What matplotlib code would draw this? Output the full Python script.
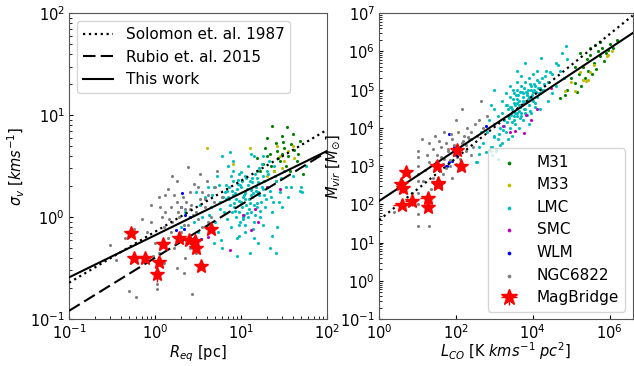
import numpy as np
import matplotlib.pyplot as plt
from matplotlib.ticker import LogLocator

plt.rcParams['font.size'] = 11
plt.rcParams['axes.labelsize'] = 10.5
plt.rcParams['xtick.labelsize'] = 10.5
plt.rcParams['ytick.labelsize'] = 10.5
plt.rcParams['xtick.direction'] = 'in'
plt.rcParams['ytick.direction'] = 'in'
plt.rcParams['xtick.major.size'] = 3
plt.rcParams['ytick.major.size'] = 3
plt.rcParams['xtick.minor.size'] = 2
plt.rcParams['ytick.minor.size'] = 2
plt.rcParams['xtick.major.pad'] = 3
plt.rcParams['ytick.major.pad'] = 3
plt.rcParams['axes.edgecolor'] = '#555555'

# ---- left panel data: log10 R_eq [pc], log10 sigma_v [km/s] ----
m31_logR = [1.36, 1.40, 1.49, 1.72, 1.30, 1.35, 1.42, 1.45, 1.50, 1.55, 1.58, 1.62, 1.65, 1.48, 1.38,
            1.25, 1.28, 1.52, 1.60, 1.68, 1.43, 1.33, 1.57, 1.47, 1.18, 1.22, 1.40, 1.53, 1.30, 1.66]
m31_logS = [0.89, 0.73, 0.74, 0.42, 0.60, 0.50, 0.65, 0.55, 0.68, 0.60, 0.72, 0.66, 0.55, 0.80, 0.45,
            0.52, 0.68, 0.50, 0.82, 0.75, 0.58, 0.62, 0.45, 0.62, 0.58, 0.45, 0.35, 0.88, 0.78, 0.62]
m33_logR = [0.60, 1.10, 0.91, 1.45, 1.55, 1.50, 1.38, 1.30, 1.60, 1.48, 1.42, 1.62]
m33_logS = [0.68, 0.68, 0.52, 0.60, 0.65, 0.55, 0.45, 0.40, 0.70, 0.48, 0.70, 0.58]
lmc_logR = [0.85, 0.92, 1.00, 1.05, 1.10, 1.12, 0.95, 1.20, 1.25, 0.80, 0.75, 0.70, 0.88, 1.02, 1.15,
            1.30, 1.35, 1.18, 1.08, 0.98, 0.90, 0.82, 0.65, 0.60, 0.55, 0.50, 0.45, 0.40, 0.68, 0.78,
            0.95, 1.05, 1.15, 1.22, 1.28, 1.40, 1.45, 1.50, 1.38, 1.32, 1.25, 1.60, 1.70, 1.75, 0.72,
            0.62, 0.58, 0.85, 0.78, 1.12, 1.00, 1.03, 0.97, 1.07, 1.13, 0.93, 0.87, 1.17, 1.23, 1.09,
            0.99, 0.83, 0.76, 1.27, 1.19, 1.04, 0.91, 1.14, 1.26, 1.36, 0.73, 0.66, 0.52, 0.48, 0.35,
            0.30, 1.42, 1.48, 1.55, 1.33, 1.20, 1.10, 0.95, 1.40, 1.01, 1.06, 0.94, 1.16, 0.89, 1.21,
            0.87, 1.15, 1.69, 1.71, 1.11, 0.96, 1.29, 0.81, 1.37, 1.02,
            0.90, 0.98, 1.04, 1.08, 1.14, 1.18, 1.24, 0.86, 0.93, 1.01, 1.06, 1.12, 1.20, 1.27, 0.84,
            0.96, 1.03, 1.10, 1.16, 1.22, 0.79, 0.88, 0.97, 1.05, 1.13, 1.31, 1.34, 0.74, 1.44, 1.52,
            0.94, 1.00, 1.07, 1.11, 1.19, 1.25, 0.89, 0.99, 1.09, 1.17, 0.82, 1.39, 1.46, 0.69, 0.63,
            1.05, 1.13, 0.92, 1.21, 1.02, 0.86, 1.30, 1.36, 0.77, 1.58, 1.08, 0.98, 1.15, 1.24, 0.91]
lmc_logS = [0.20, 0.10, 0.30, 0.18, 0.35, 0.05, 0.28, 0.25, 0.40, 0.05, 0.15, -0.05, -0.10, -0.02, 0.12,
            0.30, 0.20, 0.45, 0.50, 0.42, 0.35, 0.32, 0.10, -0.10, 0.00, -0.15, -0.05, -0.20, -0.25, -0.30,
            -0.20, -0.15, -0.05, 0.00, 0.10, 0.35, 0.25, 0.45, 0.50, 0.55, 0.60, 0.40, 0.30, 0.50, 0.40,
            0.30, 0.20, 0.50, 0.60, 0.62, 0.15, 0.22, 0.05, 0.28, 0.20, 0.24, 0.12, 0.30, 0.15, 0.08,
            -0.05, -0.02, 0.08, 0.35, 0.38, 0.40, 0.45, -0.12, -0.08, 0.05, -0.15, 0.22, 0.12, 0.25, 0.05,
            -0.10, -0.10, 0.10, 0.20, -0.30, -0.25, -0.35, -0.38, -0.35, 0.35, 0.12, 0.18, 0.42, 0.26, 0.22,
            0.64, 0.60, 0.26, 0.25, 0.27, 0.33, 0.18, 0.25, 0.15, 0.00,
            0.22, 0.16, 0.26, 0.32, 0.24, 0.14, 0.30, 0.18, 0.06, 0.10, 0.38, 0.28, 0.34, 0.22, 0.26,
            0.36, 0.02, 0.14, 0.02, 0.06, 0.20, 0.40, -0.08, 0.24, 0.34, 0.42, 0.26, 0.32, 0.15, 0.30,
            0.00, 0.44, 0.04, 0.22, 0.10, 0.28, 0.05, 0.32, 0.18, 0.26, 0.18, 0.40, 0.38, 0.30, 0.02,
            -0.08, 0.38, 0.14, 0.48, 0.20, 0.30, 0.45, -0.18, -0.22, 0.30, 0.00, -0.18, -0.20, 0.52, 0.55]
smc_logR = [1.45, 1.02, 1.16, 1.12, 0.87, 0.62, 1.30, 1.20]
smc_logS = [0.28, 0.02, 0.08, -0.13, -0.32, -0.19, 0.30, -0.05]
wlm_logR = [0.31, 0.35, 0.33, 0.44, 0.24, 0.53, 0.30, 0.40]
wlm_logS = [0.24, 0.02, -0.12, -0.26, -0.13, -0.21, 0.10, 0.00]
ngc_logR = [-0.52, -0.30, -0.22, 0.02, 0.02, 0.02, 0.43, -0.45, -0.10, -0.05, 0.00, 0.05, 0.10, 0.12, 0.15,
            0.18, 0.20, 0.22, 0.25, 0.28, 0.30, 0.32, 0.35, 0.38, 0.40, 0.42, 0.45, 0.48, 0.50, 0.52,
            0.55, 0.58, 0.60, 0.62, 0.65, 0.68, 0.72, 0.38, 0.52, 0.25, 0.15, 0.05, -0.05, -0.15, -0.25,
            -0.35, 0.10, 0.25, 0.35, 0.20, 0.45, 0.30, 0.18, 0.08, 0.40, 0.55, 0.62, 0.70, 0.78, 0.12,
            -0.02, 0.33, 0.48, 0.27, 0.36, 0.44, 0.16, 0.58, 0.22, 0.50, 0.06, 0.34, 0.41]
ngc_logS = [-0.27, -0.72, -0.78, -0.66, -0.60, -0.70, -0.75, -0.42, -0.15, -0.05, -0.25, -0.35, -0.10, 0.05, -0.20,
            0.10, -0.05, -0.30, 0.15, 0.00, -0.15, 0.20, 0.08, -0.08, 0.25, 0.12, -0.20, 0.05, 0.30, 0.18,
            -0.10, 0.10, 0.35, 0.22, 0.00, 0.15, 0.45, 0.49, 0.42, 0.35, 0.28, 0.20, 0.12, -0.02, -0.12,
            -0.20, -0.45, -0.50, -0.40, 0.40, 0.33, 0.10, -0.15, 0.00, -0.30, 0.25, -0.05, 0.30, 0.20, 0.22,
            -0.38, -0.55, -0.35, 0.05, 0.15, 0.02, -0.02, 0.18, 0.22, -0.02, 0.10, -0.08, 0.08]
mb_R = [0.53, 0.57, 0.76, 1.23, 1.11, 1.06, 1.91, 2.48, 2.92, 3.00, 3.37, 4.52]
mb_sig = [0.70, 0.40, 0.40, 0.54, 0.36, 0.28, 0.62, 0.60, 0.59, 0.50, 0.33, 0.77]
mb_R_err = [0.04, 0.05, 0.06, 0.08, 0.07, 0.06, 0.12, 0.15, 0.18, 0.15, 0.20, 0.25]
mb_sig_err = [0.04, 0.03, 0.03, 0.04, 0.03, 0.05, 0.04, 0.04, 0.04, 0.04, 0.03, 0.05]

# ---- right panel data: log10 L_CO, log10 M_vir ----
m31_logL = [5.61, 5.22, 4.70, 5.09, 5.74, 5.30, 5.40, 5.50, 5.60, 5.70, 5.80, 5.90, 6.00, 5.45, 5.35,
            5.55, 5.65, 5.20, 5.10, 5.00, 5.85, 6.10, 5.25, 4.90, 5.75, 5.95, 5.15, 4.85, 5.50, 6.20]
m31_logM = [6.17, 5.95, 4.78, 5.17, 5.87, 5.60, 5.80, 5.90, 5.70, 6.00, 6.10, 5.95, 6.20, 5.50, 5.30,
            5.40, 5.55, 5.40, 5.60, 5.30, 5.75, 6.10, 5.10, 5.00, 6.25, 6.05, 4.95, 4.85, 6.10, 6.30]
m33_logL = [5.95, 5.43, 5.09, 4.83, 5.22, 5.39, 5.32, 5.92, 5.60, 5.00, 5.50, 6.05]
m33_logM = [5.91, 5.26, 4.96, 4.96, 5.47, 5.22, 5.26, 5.87, 5.65, 5.20, 5.45, 6.00]
lmc_logL = [2.51, 2.60, 2.55, 2.77, 4.87, 4.22, 4.61, 2.70, 2.80, 2.90, 3.00, 3.00, 3.10, 3.10, 3.15,
            3.20, 3.20, 3.25, 3.30, 3.30, 3.35, 3.40, 3.40, 3.45, 3.50, 3.50, 3.55, 3.60, 3.60, 3.65,
            3.70, 3.70, 3.75, 3.80, 3.80, 3.85, 3.90, 3.90, 3.95, 4.00, 4.00, 4.05, 4.10, 4.10, 4.15,
            4.20, 4.25, 4.30, 4.35, 4.40, 4.50, 4.60, 4.70, 4.80, 3.55, 3.65, 3.75, 3.45, 3.35, 3.85,
            3.95, 4.05, 3.20, 3.40, 3.60, 3.80, 3.00, 2.85, 2.95, 3.05, 2.65, 3.50, 3.58, 3.68, 3.72,
            3.62, 3.52, 3.42, 3.32, 3.78, 3.88, 3.98, 4.08, 4.18, 4.28, 3.48, 3.58, 3.30, 4.40, 4.50,
            3.10, 2.40, 2.60, 3.90, 4.20, 3.00, 2.90, 4.90, 4.75, 3.70, 4.65, 2.95, 3.15, 3.05,
            3.44, 3.54, 3.64, 3.74, 3.84, 3.94, 4.04, 4.14, 3.38, 3.48, 3.66, 3.76, 3.86, 3.96, 4.12,
            3.26, 3.36, 3.56, 3.70, 3.82, 3.92, 4.02, 4.24, 3.46, 3.60, 3.78, 3.90, 4.06, 3.22, 3.34,
            3.52, 3.64, 3.74, 3.88, 4.00, 4.16, 4.32, 3.40, 3.58, 3.68, 3.80, 3.94, 3.12, 2.98, 4.44]
lmc_logM = [3.10, 3.31, 3.10, 3.36, 6.15, 5.82, 5.69, 3.60, 3.90, 3.50, 3.80, 4.10, 3.70, 4.30, 4.00,
            3.60, 4.40, 4.20, 3.90, 4.60, 4.30, 4.00, 4.80, 4.50, 4.20, 4.90, 4.60, 4.30, 5.00, 4.70,
            4.40, 5.10, 4.80, 4.50, 5.20, 4.90, 4.60, 5.30, 5.00, 4.70, 5.40, 5.10, 4.80, 5.50, 5.20,
            4.90, 5.30, 5.00, 5.50, 5.20, 5.40, 5.10, 5.50, 5.30, 4.10, 4.00, 4.20, 3.80, 3.70, 4.35,
            4.40, 4.55, 4.70, 5.10, 5.50, 5.70, 4.50, 4.20, 3.30, 3.40, 3.90, 4.45, 4.75, 4.55, 4.95,
            4.85, 4.65, 4.35, 4.15, 4.65, 4.75, 4.85, 4.95, 5.05, 5.15, 5.00, 5.20, 4.90, 4.70, 4.90,
            3.20, 3.70, 3.50, 4.10, 4.50, 5.00, 4.60, 5.80, 5.95, 5.35, 5.65, 3.50, 3.55, 3.45,
            4.55, 4.40, 4.60, 4.70, 4.85, 4.80, 5.00, 5.05, 4.25, 4.75, 4.95, 4.50, 4.70, 5.10, 5.25,
            4.05, 4.50, 4.85, 4.30, 4.95, 4.45, 5.15, 5.00, 4.15, 4.40, 5.05, 4.80, 4.65, 3.95, 4.60,
            4.30, 4.45, 4.90, 5.00, 4.95, 4.90, 5.35, 4.55, 4.65, 4.25, 4.40, 5.15, 3.85, 3.75, 5.45]
smc_logL = [3.83, 3.53, 3.23, 4.48, 3.76, 3.95, 3.40, 4.10]
smc_logM = [4.35, 3.92, 4.05, 5.04, 3.86, 4.20, 3.90, 4.50]
wlm_logL = [1.82, 1.90, 1.77, 2.77, 1.73, 1.82, 2.00, 1.95]
wlm_logM = [3.85, 3.14, 3.01, 4.05, 3.01, 3.10, 3.30, 3.50]
ngc_logL = [1.01, 1.01, 1.01, 1.01, 1.01, 1.01, 1.01, 1.01, 1.01, 1.30, 1.30, 1.99, 2.15, 2.65, 1.20,
            1.30, 1.40, 1.50, 1.55, 1.60, 1.65, 1.70, 1.75, 1.80, 1.85, 1.90, 1.95, 2.00, 2.05, 2.10,
            2.15, 2.20, 2.25, 2.30, 2.35, 2.40, 2.45, 2.50, 2.55, 2.60, 2.70, 2.80, 1.45, 1.25, 1.15,
            0.60, 0.40, 1.35, 1.60, 1.90, 2.10, 1.70, 1.40, 1.85, 2.00, 1.55, 2.25, 2.40, 1.75, 2.90,
            0.85, 1.12, 1.62, 1.78, 1.94, 2.08, 2.32, 1.48, 1.88, 2.18, 1.66, 2.02]
ngc_logM = [3.40, 3.23, 3.00, 2.80, 2.60, 2.30, 2.00, 1.75, 1.44, 1.44, 3.60, 4.22, 4.50, 4.71, 2.90,
            3.10, 2.70, 3.30, 3.00, 3.50, 2.80, 3.20, 3.60, 3.40, 3.00, 3.70, 3.30, 3.50, 3.90, 3.20,
            3.60, 3.80, 3.40, 4.00, 3.70, 3.90, 3.50, 4.10, 3.80, 4.20, 4.00, 4.30, 3.80, 3.30, 2.60,
            2.60, 1.80, 2.40, 2.50, 2.70, 2.90, 3.90, 3.45, 3.15, 3.05, 3.65, 3.55, 3.30, 2.95, 3.40,
            2.30, 3.70, 3.25, 3.45, 3.55, 3.35, 3.75, 3.10, 3.85, 3.65, 3.05, 3.25]
mb_logL = [0.71, 0.58, 0.61, 1.50, 2.02, 2.14, 1.54, 0.85, 0.59, 1.26, 1.28, 1.52]
mb_logM = [2.86, 2.53, 2.42, 3.01, 3.42, 3.01, 2.55, 2.08, 1.99, 2.17, 1.94, 2.53]
mb_dex_L = [0.10, 0.12, 0.12, 0.10, 0.08, 0.08, 0.10, 0.15, 0.18, 0.15, 0.12, 0.10]
mb_dex_M = [0.08, 0.10, 0.10, 0.08, 0.06, 0.08, 0.08, 0.10, 0.08, 0.10, 0.10, 0.08]

# scaling relations (amplitude, exponent)
solomon_size = (0.72, 0.50)
rubio_size = (0.40, 0.52)
thiswork_size = (0.665, 0.413)
solomon_mass = (39.0, 0.81)
thiswork_mass = (123.0, 0.665)

galaxies = ['M31', 'M33', 'LMC', 'SMC', 'WLM', 'NGC6822']
colors = ['green', 'y', 'c', 'm', 'b', 'grey']
left_sets = [(m31_logR, m31_logS), (m33_logR, m33_logS), (lmc_logR, lmc_logS),
             (smc_logR, smc_logS), (wlm_logR, wlm_logS), (ngc_logR, ngc_logS)]
right_sets = [(m31_logL, m31_logM), (m33_logL, m33_logM), (lmc_logL, lmc_logM),
              (smc_logL, smc_logM), (wlm_logL, wlm_logM), (ngc_logL, ngc_logM)]

fig = plt.figure(figsize=(6.34, 3.66), dpi=100)
ax1 = fig.add_axes([0.109, 0.128, 0.407, 0.836])
ax2 = fig.add_axes([0.598, 0.128, 0.400, 0.836])

# left: size-linewidth
for (lx, ly), name, c in zip(left_sets, galaxies, colors):
    ax1.scatter(10 ** np.array(lx), 10 ** np.array(ly), s=5, color=c, lw=0, label=name, zorder=2)
ax1.errorbar(mb_R, mb_sig, xerr=mb_R_err, yerr=mb_sig_err, fmt='*', color='red',
             ms=10, elinewidth=1, zorder=4)
r = np.logspace(-1, 2, 50)
ax1.plot(r, solomon_size[0] * r ** solomon_size[1], 'k:', lw=1.6, label='Solomon et. al. 1987', zorder=3)
ax1.plot(r, rubio_size[0] * r ** rubio_size[1], 'k', ls=(0, (6, 2.5)), lw=1.5,
         label='Rubio et. al. 2015', zorder=3)
ax1.plot(r, thiswork_size[0] * r ** thiswork_size[1], 'k-', lw=1.5, label='This work', zorder=3)
ax1.set_xscale('log')
ax1.set_yscale('log')
ax1.set_xlim(0.1, 100)
ax1.set_ylim(0.1, 100)
ax1.set_xlabel(r'$R_{eq}$ [pc]', labelpad=1)
ax1.set_ylabel(r'$\sigma_v$ [$kms^{-1}$]', labelpad=2)
h, l = ax1.get_legend_handles_labels()
ax1.legend(h[-3:], l[-3:], loc='upper left', fontsize=11)

# right: luminosity-virial mass
for (lx, ly), name, c in zip(right_sets, galaxies, colors):
    ax2.scatter(10 ** np.array(lx), 10 ** np.array(ly), s=5, color=c, lw=0, label=name, zorder=2)
mbL = 10 ** np.array(mb_logL)
mbM = 10 ** np.array(mb_logM)
ax2.errorbar(mbL, mbM, xerr=mbL * np.array(mb_dex_L) * 2.3, yerr=mbM * np.array(mb_dex_M) * 2.3,
             fmt='*', color='red', ms=10, elinewidth=1, label='MagBridge', zorder=4)
lco = np.logspace(0, 6.6, 50)
ax2.plot(lco, solomon_mass[0] * lco ** solomon_mass[1], 'k:', lw=1.6, zorder=3)
ax2.plot(lco, thiswork_mass[0] * lco ** thiswork_mass[1], 'k-', lw=1.5, zorder=3)
ax2.set_xscale('log')
ax2.set_yscale('log')
ax2.set_xlim(1, 4e6)
ax2.set_ylim(0.1, 1e7)
ax2.set_xticks([1, 1e2, 1e4, 1e6])
ax2.yaxis.set_major_locator(LogLocator(base=10, numticks=20))
ax2.set_xlabel(r'$L_{CO}$ [K $kms^{-1}$ $pc^2$]', labelpad=-1)
ax2.set_ylabel(r'$M_{vir}$ [$M_{\odot}$]', labelpad=-1)
ax2.legend(loc='lower right', fontsize=11, scatterpoints=1, markerscale=1.2)

fig.savefig('out.png')
